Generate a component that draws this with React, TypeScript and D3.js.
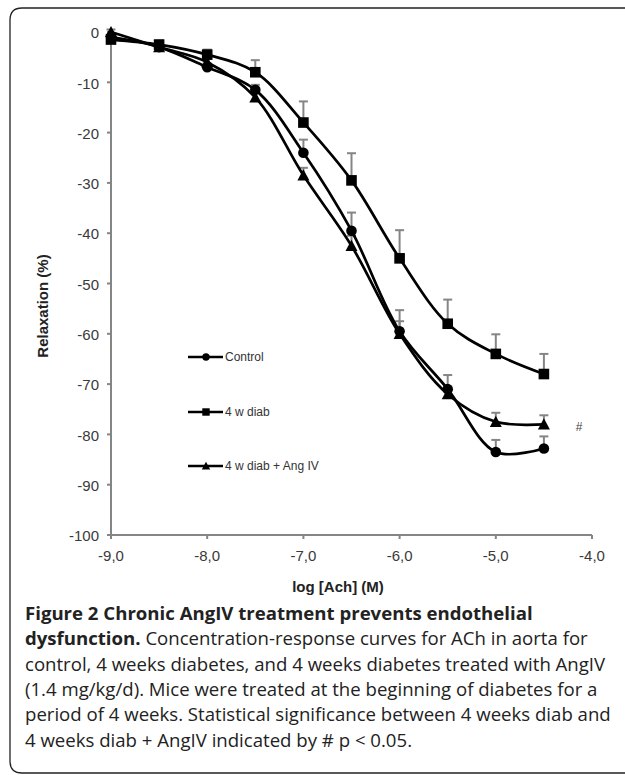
import React from "react";
import * as d3 from "d3";

const concentrations = [-9, -8.5, -8, -7.5, -7, -6.5, -6, -5.5, -5, -4.5];
const controlMean = [-1, -3, -7, -11.5, -24, -39.5, -59.5, -71, -83.5, -82.8];
const controlErr = [0.5, 0.5, 0.8, 1, 2.6, 3.6, 4.2, 2.8, 2.4, 2.4];
const diabMean = [-1.5, -2.5, -4.5, -8, -18, -29.5, -45, -58, -64, -68];
const diabErr = [0.5, 0.8, 1, 2.4, 4.2, 5.4, 5.6, 4.8, 3.9, 4];
const angMean = [0, -3, -6, -13, -28.5, -42.5, -60, -72, -77.5, -78];
const angErr = [0.5, 0.5, 0.7, 1, 1.5, 2, 2.5, 1.5, 1.8, 1.8];

const seriesNames = ["Control", "4 w diab", "4 w diab + Ang IV"];
const xTicks = [-9, -8, -7, -6, -5, -4];
const yTicks = [0, -10, -20, -30, -40, -50, -60, -70, -80, -90, -100];

const captionLines: { bold: string; normal: string }[] = [
  { bold: "Figure 2 Chronic AngIV treatment prevents endothelial", normal: "" },
  { bold: "dysfunction.", normal: " Concentration-response curves for ACh in aorta for" },
  { bold: "", normal: "control, 4 weeks diabetes, and 4 weeks diabetes treated with AngIV" },
  { bold: "", normal: "(1.4 mg/kg/d). Mice were treated at the beginning of diabetes for a" },
  { bold: "", normal: "period of 4 weeks. Statistical significance between 4 weeks diab and" },
  { bold: "", normal: "4 weeks diab + AngIV indicated by # p < 0.05." },
];

const W = 625;
const H = 775;
const left = 111;
const right = 592;
const top = 32;
const bottom = 535;

function Marker({ kind, x, y, s = 1 }: { kind: string; x: number; y: number; s?: number }) {
  if (kind === "circle") return <circle cx={x} cy={y} r={5.3 * s} fill="#000" />;
  if (kind === "square")
    return <rect x={x - 5.3 * s} y={y - 5.3 * s} width={10.6 * s} height={10.6 * s} fill="#000" />;
  const r = 6 * s;
  return <path d={`M${x},${y - r} L${x + r},${y + r * 0.85} L${x - r},${y + r * 0.85} Z`} fill="#000" />;
}

export default function App() {
  const x = d3.scaleLinear().domain([-9, -4]).range([left, right]);
  const y = d3.scaleLinear().domain([-100, 0]).range([bottom, top]);
  const line = d3
    .line<[number, number]>()
    .x((d) => x(d[0]))
    .y((d) => y(d[1]))
    .curve(d3.curveCatmullRom.alpha(0.5));

  const series = [
    { name: seriesNames[0], mean: controlMean, err: controlErr, kind: "circle" },
    { name: seriesNames[1], mean: diabMean, err: diabErr, kind: "square" },
    { name: seriesNames[2], mean: angMean, err: angErr, kind: "triangle" },
  ];

  const legendY = [357, 412, 466];
  const grey = "#858585";

  return (
    <svg
      width={W}
      height={H}
      style={{ position: "absolute", left: 0, top: 0, background: "#fff" }}
      fontFamily="'Liberation Sans', Arial, sans-serif"
    >
      <rect x={0} y={0} width={W} height={H} fill="#fff" />
      {/* frame */}
      <path
        d={`M${W + 5},8 L22,8 Q10,8 10,20 L10,761 Q10,773 22,773 L${W + 5},773`}
        fill="none"
        stroke="#222"
        strokeWidth={1.3}
      />
      {/* error bars */}
      {series.map((s, si) => (
        <g key={"e" + si} stroke={grey} strokeWidth={2}>
          {concentrations.map((c, i) => {
            const y0 = y(s.mean[i]);
            const y1 = y(s.mean[i] + s.err[i]);
            return (
              <g key={i}>
                <line x1={x(c)} x2={x(c)} y1={y0} y2={y1} />
                <line x1={x(c) - 4.5} x2={x(c) + 4.5} y1={y1} y2={y1} />
              </g>
            );
          })}
        </g>
      ))}
      {/* axes */}
      <g stroke={grey} strokeWidth={2}>
        <line x1={left} x2={left} y1={top} y2={bottom} />
        <line x1={left} x2={right} y1={bottom} y2={bottom} />
        {yTicks.map((t) => (
          <line key={"yt" + t} x1={left - 4} x2={left} y1={y(t)} y2={y(t)} />
        ))}
        {xTicks.map((t) => (
          <line key={"xt" + t} x1={x(t)} x2={x(t)} y1={bottom} y2={bottom + 4} />
        ))}
      </g>
      {yTicks.map((t) => (
        <text key={"yl" + t} x={left - 12} y={y(t) + 1} dy="0.35em" textAnchor="end" fontSize={15} fill="#3a3a3a">
          {String(t)}
        </text>
      ))}
      {xTicks.map((t) => (
        <text key={"xl" + t} x={x(t)} y={561} textAnchor="middle" fontSize={15} fill="#3a3a3a">
          {t.toFixed(1).replace(".", ",")}
        </text>
      ))}
      <text x={338} y={592} textAnchor="middle" fontSize={15} fontWeight="bold" fill="#222">
        log [Ach] (M)
      </text>
      <text
        transform={`translate(48,306) rotate(-90)`}
        textAnchor="middle"
        fontSize={15}
        fontWeight="bold"
        fill="#222"
      >
        Relaxation (%)
      </text>
      {/* lines */}
      {series.map((s, si) => (
        <path
          key={"l" + si}
          d={line(concentrations.map((c, i) => [c, s.mean[i]] as [number, number])) || ""}
          fill="none"
          stroke="#000"
          strokeWidth={2.7}
        />
      ))}
      {series.map((s, si) => (
        <g key={"m" + si}>
          {concentrations.map((c, i) => (
            <Marker key={i} kind={s.kind} x={x(c)} y={y(s.mean[i])} />
          ))}
        </g>
      ))}
      {/* legend */}
      {series.map((s, si) => (
        <g key={"lg" + si}>
          <line x1={188} x2={223} y1={legendY[si]} y2={legendY[si]} stroke="#000" strokeWidth={2.7} />
          <Marker kind={s.kind} x={206} y={legendY[si]} s={0.7} />
          <text x={225} y={legendY[si]} dy="0.35em" fontSize={12} fill="#333">
            {s.name}
          </text>
        </g>
      ))}
      <text x={579} y={427} dy="0.35em" textAnchor="middle" fontSize={12} fill="#444">
        #
      </text>
      {/* caption */}
      {captionLines.map((l, i) => (
        <text key={"c" + i} x={25} y={620 + i * 25.3} fontSize={18.6} fontFamily="'Open Sans', sans-serif" fill="#222">
          {l.bold && <tspan fontWeight="bold">{l.bold}</tspan>}
          {l.normal && <tspan>{l.normal}</tspan>}
        </text>
      ))}
    </svg>
  );
}
